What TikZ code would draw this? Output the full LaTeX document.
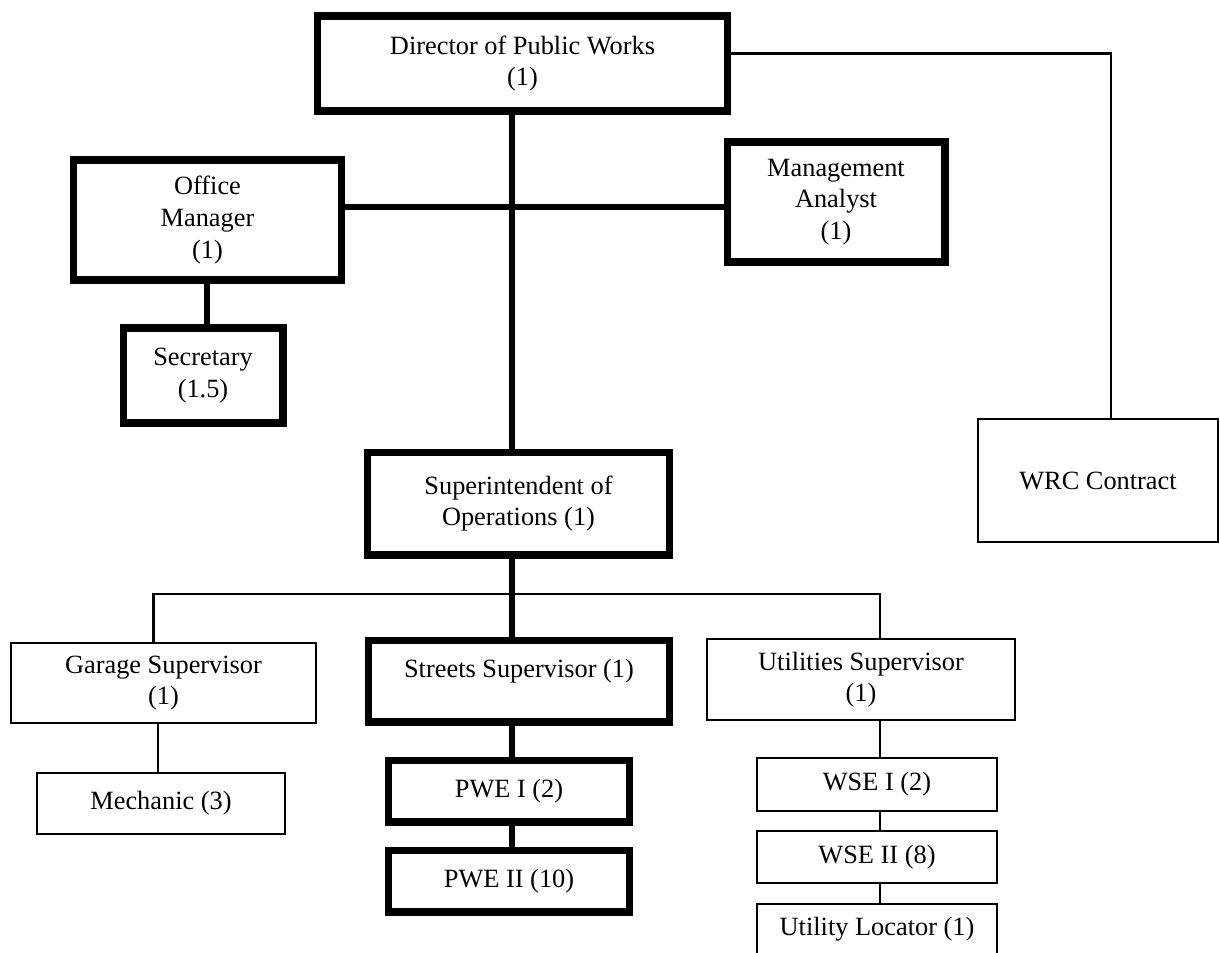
\documentclass[tikz,border=0pt]{standalone}
\usepackage{fontspec}
\setmainfont{Liberation Serif}
\begin{document}
\begin{tikzpicture}[
    x=0.02cm, y=-0.02cm,
    box/.style={rectangle, draw, line width=4pt, align=center, inner sep=0pt, font=\fontsize{15}{18}\selectfont},
    thinbox/.style={box, line width=1.4pt},
    link/.style={line width=3.6pt},
    thinlink/.style={line width=1.3pt}
]
\useasboundingbox (0,0) rectangle (1220,953);

% Top level
\node[box, minimum width=8.22cm, minimum height=1.9cm] (dir) at (522.5,63.5) {Director of Public Works\\(1)};

% Staff
\node[box, minimum width=5.38cm, minimum height=2.4cm] (om) at (207.5,220) {Office\\Manager\\(1)};
\node[box, minimum width=4.36cm, minimum height=2.4cm] (ma) at (836,202) {Management\\Analyst\\(1)};
\node[box, minimum width=3.2cm, minimum height=1.9cm] (sec) at (203,375.5) {Secretary\\(1.5)};

% Operations
\node[box, minimum width=6.06cm, minimum height=2.06cm] (supt) at (518.5,503.5) {Superintendent of\\Operations (1)};
\node[thinbox, minimum width=4.8cm, minimum height=2.46cm] (wrc) at (1098,480.5) {WRC Contract};

% Supervisors
\node[thinbox, minimum width=6.1cm, minimum height=1.6cm] (gar) at (163.5,683) {Garage Supervisor\\(1)};
\node[box, minimum width=6.04cm, minimum height=1.64cm, text depth=0.5cm] (str) at (519,681) {Streets Supervisor (1)};
\node[thinbox, minimum width=6.16cm, minimum height=1.62cm] (util) at (861,679.5) {Utilities Supervisor\\(1)};

% Crews
\node[thinbox, minimum width=4.96cm, minimum height=1.22cm] (mech) at (161,803.5) {Mechanic (3)};
\node[box, minimum width=4.84cm, minimum height=1.24cm] (pwe1) at (509,791) {PWE I (2)};
\node[box, minimum width=4.84cm, minimum height=1.24cm] (pwe2) at (509,881) {PWE II (10)};
\node[thinbox, minimum width=4.8cm, minimum height=1.06cm] (wse1) at (877,784.5) {WSE I (2)};
\node[thinbox, minimum width=4.8cm, minimum height=1.04cm] (wse2) at (877,857) {WSE II (8)};
\node[thinbox, minimum width=4.8cm, minimum height=1.2cm, text depth=0.3cm] (loc) at (877,934) {Utility Locator (1)};

% Junctions
\coordinate (staff) at (512,207);
\coordinate (bus) at (512,594);

% Lines
\draw[link] (dir.south -| staff) -- (supt.north -| staff);
\draw[link] (om.east |- staff) -- (ma.west |- staff);
\draw[link] (sec.north -| 207,0) -- (om.south -| 207,0);
\draw[thinlink] ([yshift=0.2cm]dir.east) -| ([xshift=0.26cm]wrc.north);
\draw[link] (supt.south -| bus) -- (str.north -| bus);
\draw[thinlink] ([xshift=-0.2cm]gar.north) |- (bus) -| ([xshift=0.38cm]util.north);
\draw[thinlink] (mech.north -| 158,0) -- (gar.south -| 158,0);
\draw[link] (str.south -| bus) -- (pwe1.north -| bus);
\draw[link] (pwe1.south -| bus) -- (pwe2.north -| bus);
\draw[thinlink] (util.south -| 880,0) -- (wse1.north -| 880,0);
\draw[thinlink] (wse1.south -| 880,0) -- (wse2.north -| 880,0);
\draw[thinlink] (wse2.south -| 880,0) -- (loc.north -| 880,0);

\end{tikzpicture}
\end{document}
